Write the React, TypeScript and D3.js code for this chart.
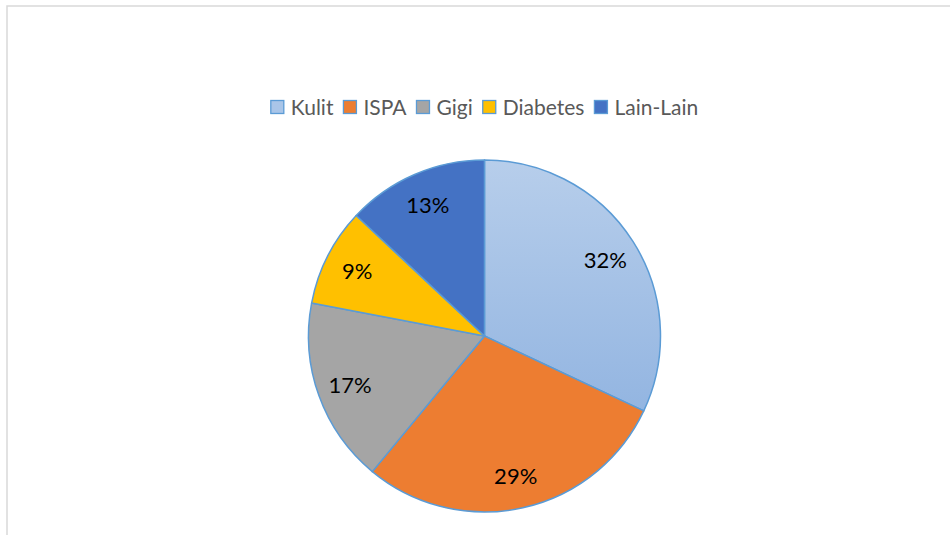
import React, { useEffect, useRef } from "react";
import * as d3 from "d3";

const categories = ["Kulit", "ISPA", "Gigi", "Diabetes", "Lain-Lain"];
const values = [32, 29, 17, 9, 13];
const colors = ["url(#kulitGrad)", "#ED7D31", "#A5A5A5", "#FFC000", "#4472C4"];
const legendColors = ["#A9C5E8", "#ED7D31", "#A5A5A5", "#FFC000", "#4472C4"];

const W = 950;
const H = 535;
const cx = 484.5;
const cy = 336;
const R = 176;
const FONT = "Lato, 'Liberation Sans', sans-serif";

export default function App() {
  const ref = useRef<SVGSVGElement | null>(null);

  useEffect(() => {
    const svg = d3.select(ref.current);
    svg.selectAll("*").remove();

    const defs = svg.append("defs");
    const grad = defs
      .append("linearGradient")
      .attr("id", "kulitGrad")
      .attr("x1", 0)
      .attr("y1", 0)
      .attr("x2", 0)
      .attr("y2", 1);
    grad.append("stop").attr("offset", "0%").attr("stop-color", "#B7CEEB");
    grad.append("stop").attr("offset", "100%").attr("stop-color", "#93B5E1");

    // frame
    svg
      .append("rect")
      .attr("x", 7)
      .attr("y", 6)
      .attr("width", 2000)
      .attr("height", 2000)
      .attr("fill", "none")
      .attr("stroke", "#D9D9D9")
      .attr("stroke-width", 1.5);

    const data = categories.map((c, i) => ({ cat: c, value: values[i], i }));
    const pie = d3
      .pie<any>()
      .value((d) => d.value)
      .sort(null);
    const arcs = pie(data);
    const arc = d3.arc<any>().innerRadius(0).outerRadius(R);
    const labelArc = d3.arc<any>().innerRadius(143).outerRadius(143);

    const g = svg.append("g").attr("transform", `translate(${cx},${cy})`);
    g.selectAll("path")
      .data(arcs)
      .enter()
      .append("path")
      .attr("d", arc as any)
      .attr("fill", (d: any) => colors[d.data.i])
      .attr("stroke", "#5B9BD5")
      .attr("stroke-width", 1.5)
      .attr("stroke-linejoin", "round");

    g.selectAll("text.lbl")
      .data(arcs)
      .enter()
      .append("text")
      .attr("class", "lbl")
      .attr("transform", (d: any) => `translate(${labelArc.centroid(d)})`)
      .attr("text-anchor", "middle")
      .attr("dy", "0.38em")
      .attr("font-family", FONT)
      .attr("font-size", 22)
      .attr("fill", "#000")
      .text((d: any) => `${d.data.value}%`);

    // legend
    const legend = svg.append("g");
    const box = 13;
    const gapBoxText = 7;
    const gapItems = 10;
    const items = legend
      .selectAll("g.item")
      .data(data)
      .enter()
      .append("g")
      .attr("class", "item");
    items
      .append("rect")
      .attr("width", box)
      .attr("height", box)
      .attr("y", -box / 2)
      .attr("fill", (d: any) => legendColors[d.i])
      .attr("stroke", "#5B9BD5")
      .attr("stroke-width", 1.3);
    items
      .append("text")
      .attr("x", box + gapBoxText)
      .attr("dy", "0.36em")
      .attr("font-family", FONT)
      .attr("font-size", 21)
      .attr("fill", "#595959")
      .text((d: any) => d.cat);

    let x = 0;
    const offsets: number[] = [];
    items.each(function () {
      const t = d3.select(this).select("text").node() as SVGTextElement;
      const w = box + gapBoxText + t.getComputedTextLength();
      offsets.push(x);
      x += w + gapItems;
    });
    const total = x - gapItems;
    const start = cx - total / 2;
    items.attr("transform", (_d: any, i: number) => `translate(${start + offsets[i]},107)`);
  }, []);

  return (
    <svg
      ref={ref}
      width={W}
      height={H}
      style={{ position: "absolute", left: 0, top: 0, background: "#fff" }}
    />
  );
}
